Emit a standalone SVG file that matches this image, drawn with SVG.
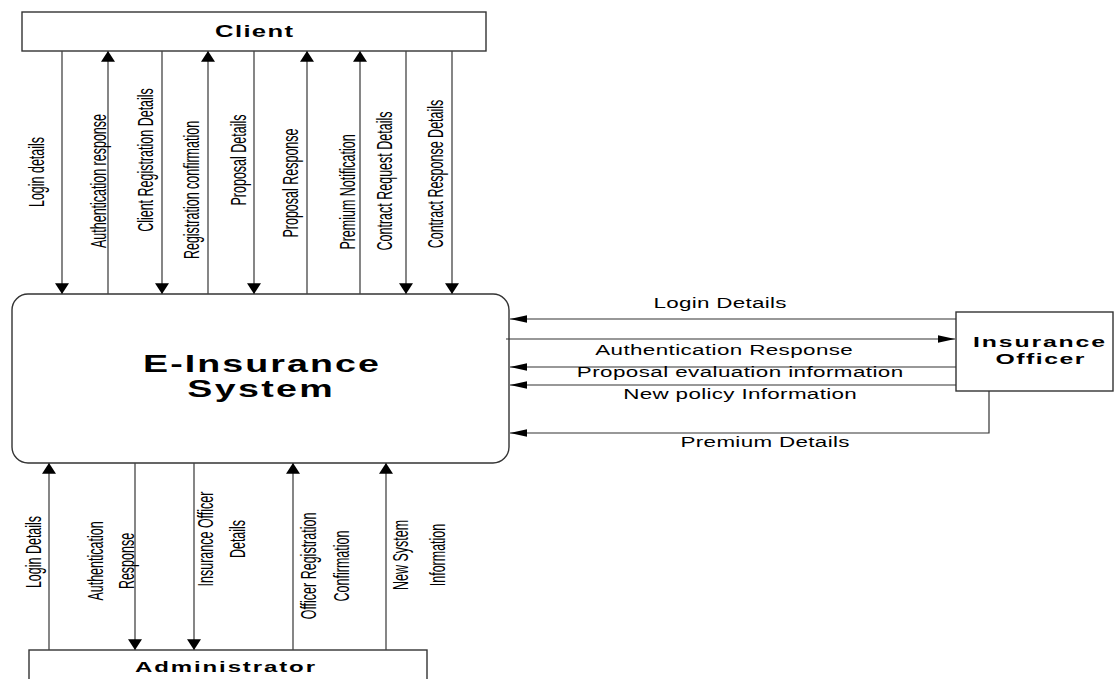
<svg xmlns="http://www.w3.org/2000/svg" width="1114" height="679" viewBox="0 0 1114 679">
<style>
.box{fill:#fff;stroke:#333;stroke-width:1.4}
.title{font-family:"Liberation Sans",Arial,sans-serif;font-weight:bold;fill:#000}
.lbl{font-family:"Liberation Sans",Arial,sans-serif;font-size:12.5px;fill:#000}
.rl{font-size:14px}
.vd{stroke:#444;stroke-width:1.3;fill:none;marker-end:url(#aV)}
.hd{stroke:#333;stroke-width:1.2;fill:none;marker-end:url(#aH)}
</style>
<defs>
<marker id="aV" markerUnits="userSpaceOnUse" markerWidth="12" markerHeight="14" viewBox="0 0 10 13" refX="10" refY="6.5" orient="auto"><path d="M0,0 L10,6.5 L0,13 Z" fill="#000"/></marker>
<marker id="aH" markerUnits="userSpaceOnUse" markerWidth="17" markerHeight="8" viewBox="0 0 16 7" refX="16" refY="3.5" orient="auto"><path d="M0,0 L16,3.5 L0,7 Z" fill="#000"/></marker>
</defs>

<g id="client">
<rect class="box" x="22" y="12" width="464" height="39"/>
<text class="title" font-size="16" text-anchor="middle" transform="translate(254,37) scale(1.6,1)" textLength="48.7" lengthAdjust="spacing">Client</text>
</g>

<g id="system">
<rect class="box" x="12" y="294" width="497" height="169" rx="16" ry="16"/>
<text class="title" font-size="23.5" text-anchor="middle" transform="translate(261,372) scale(1.6,1)" textLength="147.5" lengthAdjust="spacing">E-Insurance</text>
<text class="title" font-size="23.5" text-anchor="middle" transform="translate(260,397) scale(1.6,1)" textLength="91" lengthAdjust="spacing">System</text>
</g>

<g id="officer">
<rect class="box" x="956" y="312" width="157" height="79"/>
<text class="title" font-size="15.5" text-anchor="middle" transform="translate(1039,347) scale(1.6,1)" textLength="82.5" lengthAdjust="spacing">Insurance</text>
<text class="title" font-size="15.5" text-anchor="middle" transform="translate(1040,364) scale(1.6,1)" textLength="55.6" lengthAdjust="spacing">Officer</text>
</g>

<g id="administrator">
<rect class="box" x="29" y="650" width="398" height="40"/>
<text class="title" font-size="15" text-anchor="middle" transform="translate(225,672) scale(1.6,1)" textLength="112.5" lengthAdjust="spacing">Administrator</text>
</g>

<g id="connectors">
<line class="vd" x1="62" y1="51" x2="62" y2="294"/>
<line class="vd" x1="108" y1="294" x2="108" y2="51"/>
<line class="vd" x1="162" y1="51" x2="162" y2="294"/>
<line class="vd" x1="208" y1="294" x2="208" y2="51"/>
<line class="vd" x1="254" y1="51" x2="254" y2="294"/>
<line class="vd" x1="307" y1="294" x2="307" y2="51"/>
<line class="vd" x1="360" y1="294" x2="360" y2="51"/>
<line class="vd" x1="406" y1="51" x2="406" y2="294"/>
<line class="vd" x1="452" y1="51" x2="452" y2="294"/>
<line class="vd" x1="49" y1="650" x2="49" y2="463"/>
<line class="vd" x1="135" y1="463" x2="135" y2="650"/>
<line class="vd" x1="194" y1="463" x2="194" y2="650"/>
<line class="vd" x1="293" y1="650" x2="293" y2="463"/>
<line class="vd" x1="386" y1="650" x2="386" y2="463"/>
<line class="hd" x1="956" y1="319" x2="510" y2="319"/>
<line class="hd" x1="506" y1="339" x2="955" y2="339"/>
<line class="hd" x1="956" y1="367" x2="510" y2="367"/>
<line class="hd" x1="956" y1="385" x2="510" y2="385"/>
<polyline class="hd" points="989,391 989,433 510,433"/>

<g class="lbl" text-anchor="middle">
<text transform="translate(43.5,172) scale(1.7,1) rotate(-90)">Login details</text>
<text transform="translate(105.5,181) scale(1.7,1) rotate(-90)">Authentication response</text>
<text transform="translate(152.5,160) scale(1.7,1) rotate(-90)">Client Registration Details</text>
<text transform="translate(198.5,190) scale(1.7,1) rotate(-90)">Registration confirmation</text>
<text transform="translate(245.5,160) scale(1.7,1) rotate(-90)">Proposal Details</text>
<text transform="translate(297.5,183) scale(1.7,1) rotate(-90)">Proposal Response</text>
<text transform="translate(354.7,192) scale(1.7,1) rotate(-90)">Premium Notification</text>
<text transform="translate(391.5,181) scale(1.7,1) rotate(-90)">Contract Request Details</text>
<text transform="translate(442.5,174) scale(1.7,1) rotate(-90)">Contract Response Details</text>
<text transform="translate(40.5,552) scale(1.7,1) rotate(-90)">Login Details</text>
<text transform="translate(102.7,561) scale(1.7,1) rotate(-90)">Authentication</text>
<text transform="translate(133.5,561) scale(1.7,1) rotate(-90)">Response</text>
<text transform="translate(212.7,539) scale(1.7,1) rotate(-90)">Insurance Officer</text>
<text transform="translate(244.7,539) scale(1.7,1) rotate(-90)">Details</text>
<text transform="translate(315.5,566) scale(1.7,1) rotate(-90)">Officer Registration</text>
<text transform="translate(348.7,566) scale(1.7,1) rotate(-90)">Confirmation</text>
<text transform="translate(407.5,555) scale(1.7,1) rotate(-90)">New System</text>
<text transform="translate(444.7,555) scale(1.7,1) rotate(-90)">Information</text>
<text class="rl" transform="translate(720,308) scale(1.6,1)" textLength="83" lengthAdjust="spacing">Login Details</text>
<text class="rl" transform="translate(724,355) scale(1.6,1)" textLength="161" lengthAdjust="spacing">Authentication Response</text>
<text class="rl" transform="translate(740,377) scale(1.6,1)" textLength="204" lengthAdjust="spacing">Proposal evaluation information</text>
<text class="rl" transform="translate(740,399) scale(1.6,1)" textLength="146" lengthAdjust="spacing">New policy Information</text>
<text class="rl" transform="translate(765,447) scale(1.6,1)" textLength="105.6" lengthAdjust="spacing">Premium Details</text>
</g>
</g>
</svg>
